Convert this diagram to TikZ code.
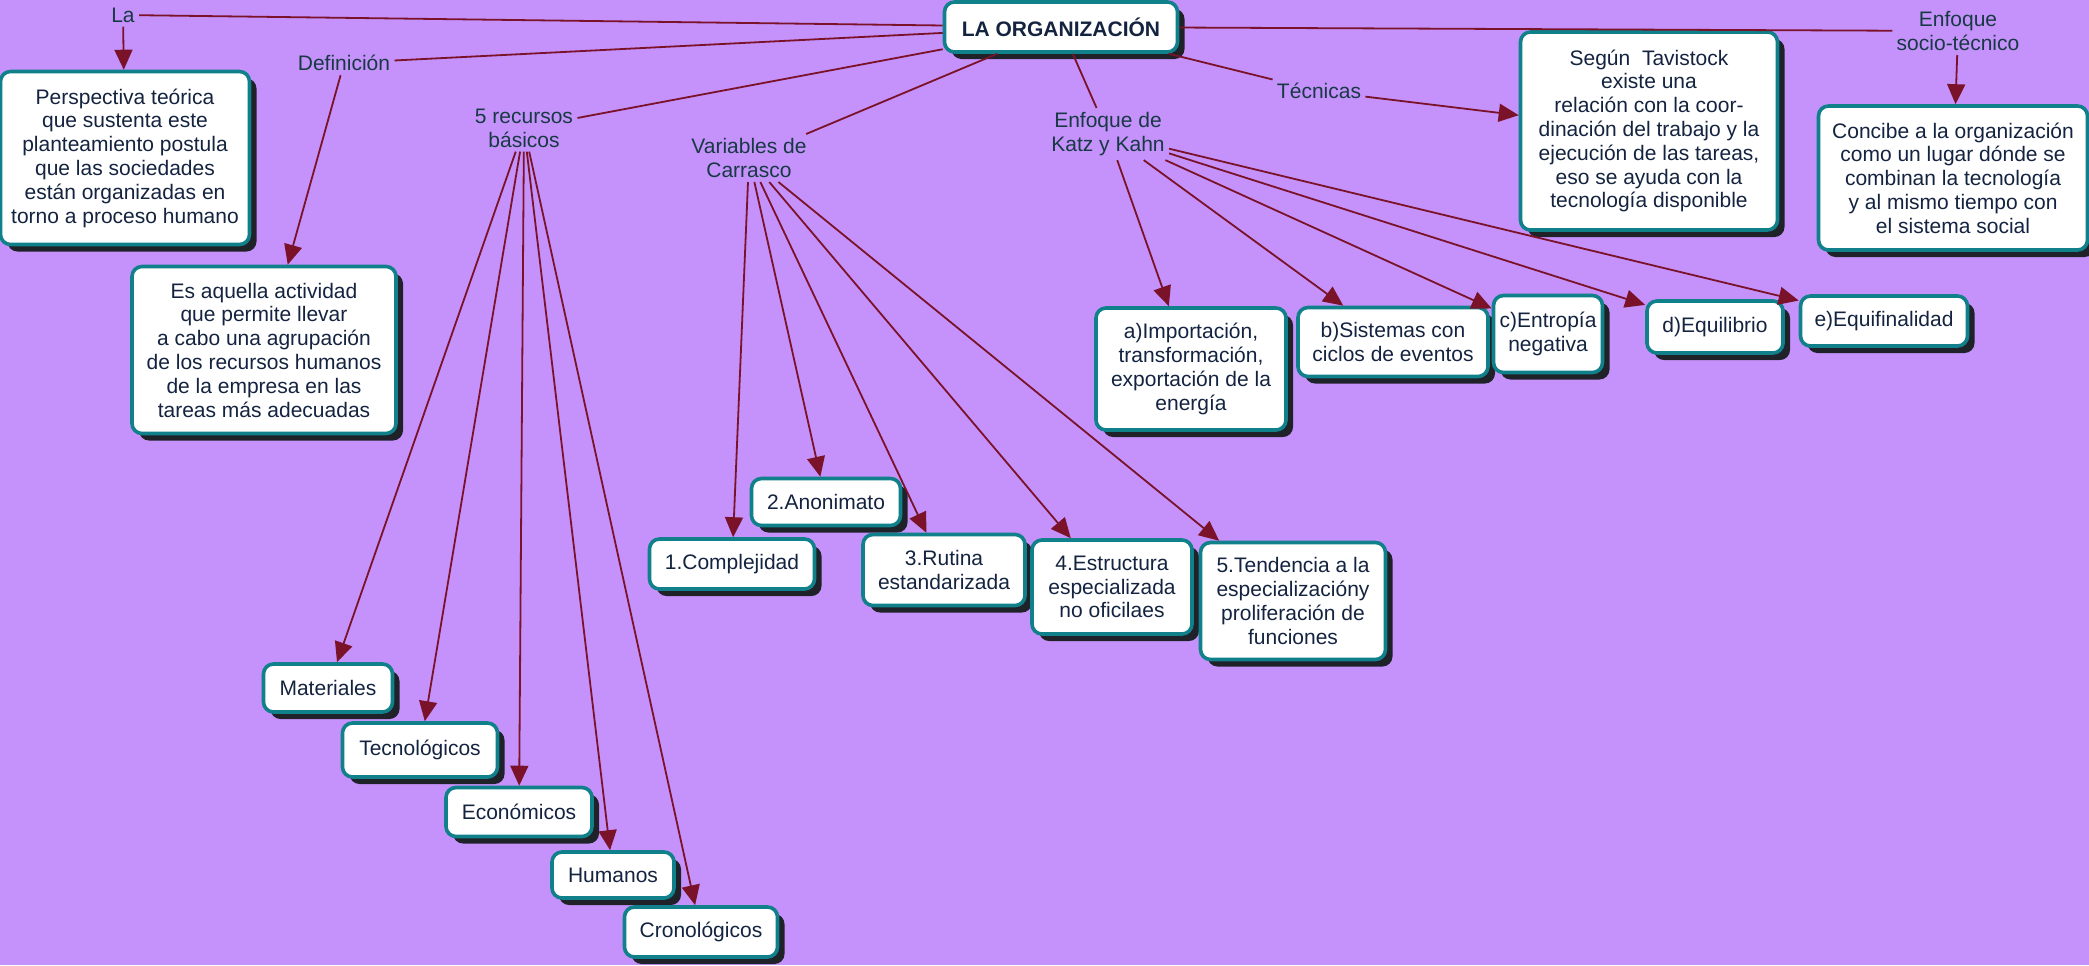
\documentclass[tikz,border=0pt]{standalone}
\usepackage{fontspec}
\setmainfont{Liberation Sans}
\usetikzlibrary{arrows.meta, shadows}

\definecolor{fondo}{HTML}{C592FB}
\definecolor{borde}{HTML}{10808A}
\definecolor{flecha}{HTML}{7A1229}
\definecolor{sombra}{HTML}{1F2329}
\definecolor{texto}{HTML}{14233F}
\definecolor{etiq}{HTML}{173944}

\tikzset{
  caja/.style={draw=borde, line width=1.8pt, fill=white, rounded corners=5pt, text=texto,
    align=center, inner sep=2pt,
    drop shadow={shadow xshift=3.5pt, shadow yshift=-3.5pt, fill=sombra, opacity=1}},
  tam/.style 2 args={minimum width=#1pt, minimum height=#2pt},
  etiqueta/.style={text=etiq, align=center, inner sep=2pt},
  enlace/.style={draw=flecha, line width=0.9pt},
  flechita/.style={enlace, -{Triangle[length=10pt, width=9pt]}},
}

\begin{document}
\begin{tikzpicture}[x=0.5pt, y=-0.5pt, font=\fontsize{10.5}{11.9}\selectfont]
	\fill[fondo] (0,0) rectangle (2089,965);
	\useasboundingbox (0,0) rectangle (2089,965);

	% centro
	\node[caja, font=\fontsize{10.5}{11.9}\selectfont\bfseries, tam={116.5}{25}] (org) at (1061,27) {LA ORGANIZACIÓN};

	% etiquetas
	\node[etiqueta] (la) at (123,15) {La};
	\node[etiqueta] (def) at (344,63) {Definición};
	\node[etiqueta] (rec) at (524,128) {5 recursos\\básicos};
	\node[etiqueta] (car) at (749,158) {Variables de\\Carrasco};
	\node[etiqueta] (katz) at (1108,134) {Enfoque de\\Katz y Kahn};
	\node[etiqueta] (tecn) at (1319,91) {Técnicas};
	\node[etiqueta] (soc) at (1958,31) {Enfoque\\socio-técnico};

	% cajas
	\node[caja, tam={124.5}{86.5}] (persp) at (125,158) {Perspectiva teórica\\que sustenta este\\planteamiento postula\\que las sociedades\\están organizadas en\\torno a proceso humano};
	\node[caja, tam={132}{83.5}] (es) at (264,350) {Es aquella actividad\\que permite llevar\\a cabo una agrupación\\de los recursos humanos\\de la empresa en las\\tareas más adecuadas};
	\node[caja, tam={128.5}{99}] (seg) at (1649,131) {Según\ \ Tavistock\\existe una\\relación con la coor-\\dinación del trabajo y la\\ejecución de las tareas,\\eso se ayuda con la\\tecnología disponible};
	\node[caja, tam={134.5}{72}] (conc) at (1953,178) {Concibe a la organización\\como un lugar dónde se\\combinan la tecnología\\y al mismo tiempo con\\el sistema social};

	\node[caja, tam={95}{61}] (ka) at (1191,369) {a)Importación,\\transformación,\\exportación de la\\energía};
	\node[caja, tam={95}{34.5}] (kb) at (1393,342) {b)Sistemas con\\ciclos de eventos};
	\node[caja, tam={54.5}{38.5}] (kc) at (1548,334) {c)Entropía\\negativa};
	\node[caja, tam={68}{26}] (kd) at (1715,327) {d)Equilibrio};
	\node[caja, tam={83.5}{25}] (ke) at (1884,321) {e)Equifinalidad};

	\node[caja, tam={82.5}{25}] (c1) at (732,564) {1.Complejidad};
	\node[caja, tam={74.5}{23.5}] (c2) at (826,502) {2.Anonimato};
	\node[caja, tam={81}{35.5}] (c3) at (944,570) {3.Rutina\\estandarizada};
	\node[caja, tam={80}{47}] (c4) at (1112,587) {4.Estructura\\especializada\\no oficilaes};
	\node[caja, tam={92.5}{58.5}] (c5) at (1293,601) {5.Tendencia a la\\especializacióny\\proliferación de\\funciones};

	\node[caja, tam={64.5}{24}] (mat) at (328,688) {Materiales};
	\node[caja, tam={77.5}{27}] (tecno) at (420,750) {Tecnológicos};
	\node[caja, tam={73}{24.5}] (eco) at (519,812) {Económicos};
	\node[caja, tam={61}{23}] (hum) at (613,875) {Humanos};
	\node[caja, tam={76.5}{25}] (cro) at (701,932) {Cronológicos};

	% conexiones
	\draw[enlace] (org) -- (la);
	\draw[flechita] (la) -- (persp);
	\draw[enlace] (org) -- (def);
	\draw[flechita] (def) -- (es);
	\draw[enlace] (org) -- (rec);
	\foreach \n in {mat,tecno,eco,hum,cro}
		\draw[flechita] (rec) -- (\n);
	\draw[enlace] (org) -- (car);
	\foreach \n in {c1,c2,c3,c4,c5}
		\draw[flechita] (car) -- (\n);
	\draw[enlace] (org) -- (katz);
	\foreach \n in {ka,kb,kc,kd,ke}
		\draw[flechita] (katz) -- (\n);
	\draw[enlace] (org) -- (tecn);
	\draw[flechita] (tecn) -- (seg);
	\draw[enlace] (org) -- (soc);
	\draw[flechita] (soc) -- (conc);
\end{tikzpicture}
\end{document}
